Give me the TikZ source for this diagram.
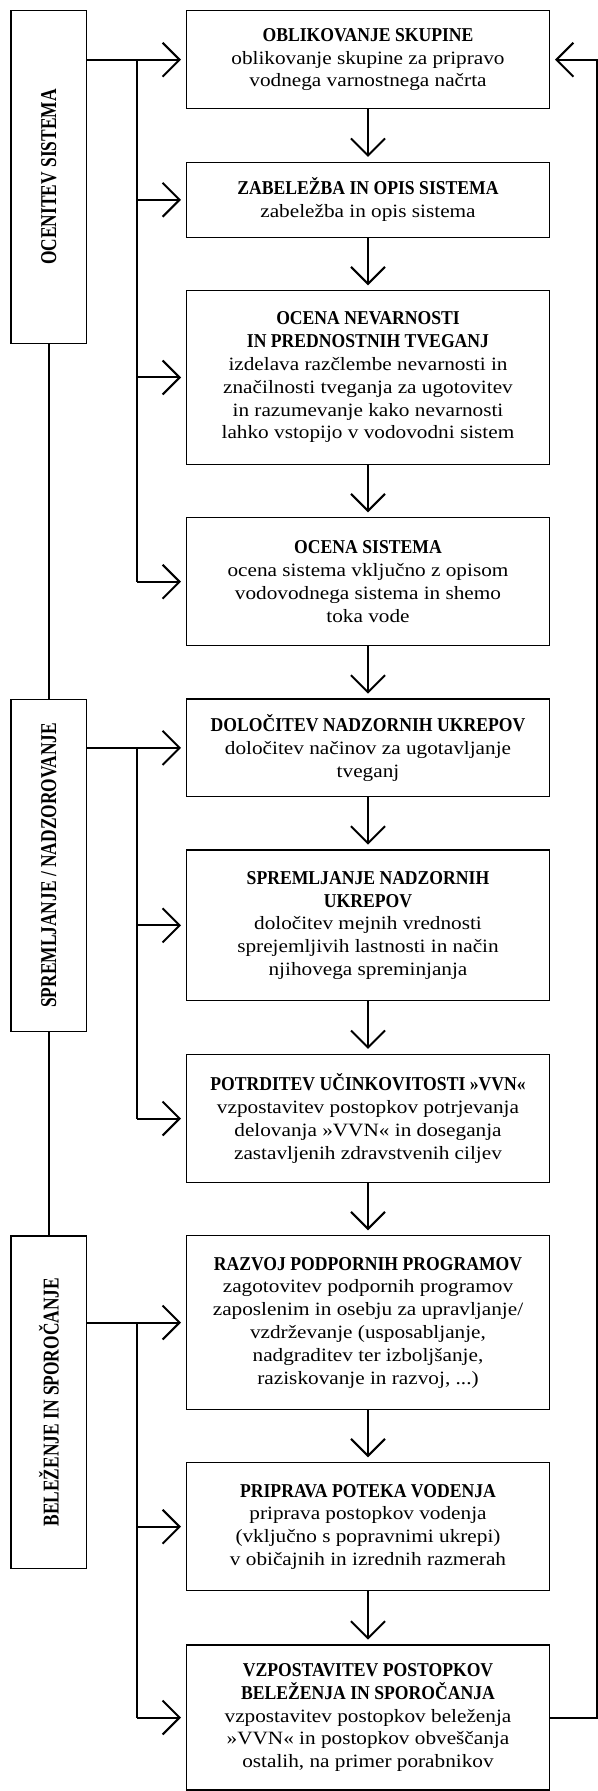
\documentclass[tikz,border=0pt]{standalone}
\usepackage{fontspec}
\setmainfont{Liberation Serif}[FakeStretch=1.13]
\newfontfamily\headfont{Liberation Serif}[FakeStretch=0.9]
\newfontfamily\sidefont{Liberation Serif}[FakeStretch=0.77]
\usetikzlibrary{arrows.meta}

\newcommand{\ttl}[1]{{\headfont\bfseries\fontsize{9.8}{11.4}\selectfont #1}}
\newcommand{\sidetxt}[1]{\rotatebox{90}{\sidefont\bfseries\fontsize{11.3}{13}\selectfont #1}}

\begin{document}
\begin{tikzpicture}[x=0.5pt, y=-0.5pt,
    stepbox/.style={draw, line width=0.6pt, minimum width=181.6pt, inner sep=0pt,
        align=center, font=\fontsize{9.4}{11.4}\selectfont},
    sidebox/.style={draw, line width=0.6pt, minimum width=37.85pt, minimum height=166.3pt, inner sep=0pt},
    flow/.style={line width=1pt, -{Straight Barb[length=8.5pt, width=17pt]}, shorten >=2.4pt},
    link/.style={line width=1pt}]

    \useasboundingbox (0,0) rectangle (598,1791);

    % Phase boxes on the left
    \node[sidebox] (s1) at (48.8,177) {\sidetxt{OCENITEV SISTEMA}};
    \node[sidebox] (s2) at (48.8,865.4) {\sidetxt{SPREMLJANJE / NADZOROVANJE}};
    \node[sidebox] (s3) at (48.8,1402.2) {\sidetxt{BELEŽENJE IN SPOROČANJE}};

    % Steps
    \node[stepbox, minimum height=49pt] (b1) at (368,59.7)
        {\ttl{OBLIKOVANJE SKUPINE}\\ oblikovanje skupine za pripravo\\ vodnega varnostnega načrta};
    \node[stepbox, minimum height=37.5pt] (b2) at (368,199.8)
        {\ttl{ZABELEŽBA IN OPIS SISTEMA}\\ zabeležba in opis sistema};
    \node[stepbox, minimum height=86.8pt] (b3) at (368,377.5)
        {\ttl{OCENA NEVARNOSTI}\\ \ttl{IN PREDNOSTNIH TVEGANJ}\\ izdelava razčlembe nevarnosti in\\
         značilnosti tveganja za ugotovitev\\ in razumevanje kako nevarnosti\\ lahko vstopijo v vodovodni sistem};
    \node[stepbox, minimum height=64pt] (b4) at (368,581.7)
        {\ttl{OCENA SISTEMA}\\ ocena sistema vključno z opisom\\ vodovodnega sistema in shemo\\ toka vode};
    \node[stepbox, minimum height=48.85pt] (b5) at (368,747.85)
        {\ttl{DOLOČITEV NADZORNIH UKREPOV}\\ določitev načinov za ugotavljanje\\ tveganj};
    \node[stepbox, minimum height=75.35pt] (b6) at (368,925.35)
        {\ttl{SPREMLJANJE NADZORNIH}\\ \ttl{UKREPOV}\\ določitev mejnih vrednosti\\
         sprejemljivih lastnosti in način\\ njihovega spreminjanja};
    \node[stepbox, minimum height=64.2pt] (b7) at (368,1118.5)
        {\ttl{POTRDITEV UČINKOVITOSTI »VVN«}\\ vzpostavitev postopkov potrjevanja\\
         delovanja »VVN« in doseganja\\ zastavljenih zdravstvenih ciljev};
    \node[stepbox, minimum height=86.8pt] (b8) at (368,1322.5)
        {\ttl{RAZVOJ PODPORNIH PROGRAMOV}\\ zagotovitev podpornih programov\\ zaposlenim in osebju za upravljanje/\\
         vzdrževanje (usposabljanje,\\ nadgraditev ter izboljšanje,\\ raziskovanje in razvoj, ...)};
    \node[stepbox, minimum height=64pt] (b9) at (368,1526.7)
        {\ttl{PRIPRAVA POTEKA VODENJA}\\ priprava postopkov vodenja\\ (vključno s popravnimi ukrepi)\\
         v običajnih in izrednih razmerah};
    \node[stepbox, minimum height=72.5pt] (b10) at (368,1717.5)
        {\ttl{VZPOSTAVITEV POSTOPKOV}\\ \ttl{BELEŽENJA IN SPOROČANJA}\\ vzpostavitev postopkov beleženja\\
         »VVN« in postopkov obveščanja\\ ostalih, na primer porabnikov};

    % Step to step
    \foreach \a/\b in {b1/b2,b2/b3,b3/b4,b4/b5,b5/b6,b6/b7,b7/b8,b8/b9,b9/b10}
        \draw[flow] (\a.south) -- (\b.north);

    % Phases linked on the left
    \draw[link] (s1.south) -- (s2.north);
    \draw[link] (s2.south) -- (s3.north);

    % Branches from each phase
    \coordinate (t) at (136.5,0);
    \draw[flow] (s1.east |- b1.west) -- (b1.west);
    \draw[link] (t |- b1.west) -- (t |- b4.west);
    \draw[flow] (s2.east |- b5.west) -- (b5.west);
    \draw[link] (t |- b5.west) -- (t |- b7.west);
    \draw[flow] (s3.east |- b8.west) -- (b8.west);
    \draw[link] (t |- b8.west) -- (t |- b10.west);
    \foreach \b in {b2,b3,b4,b6,b7,b9,b10}
        \draw[flow] (t |- \b.west) -- (\b.west);

    % Feedback on the right
    \coordinate (r) at (596.9,0);
    \draw[flow] (b10.east) -- (r |- b10.east) -- (r |- b1.east) -- (b1.east);

\end{tikzpicture}
\end{document}
